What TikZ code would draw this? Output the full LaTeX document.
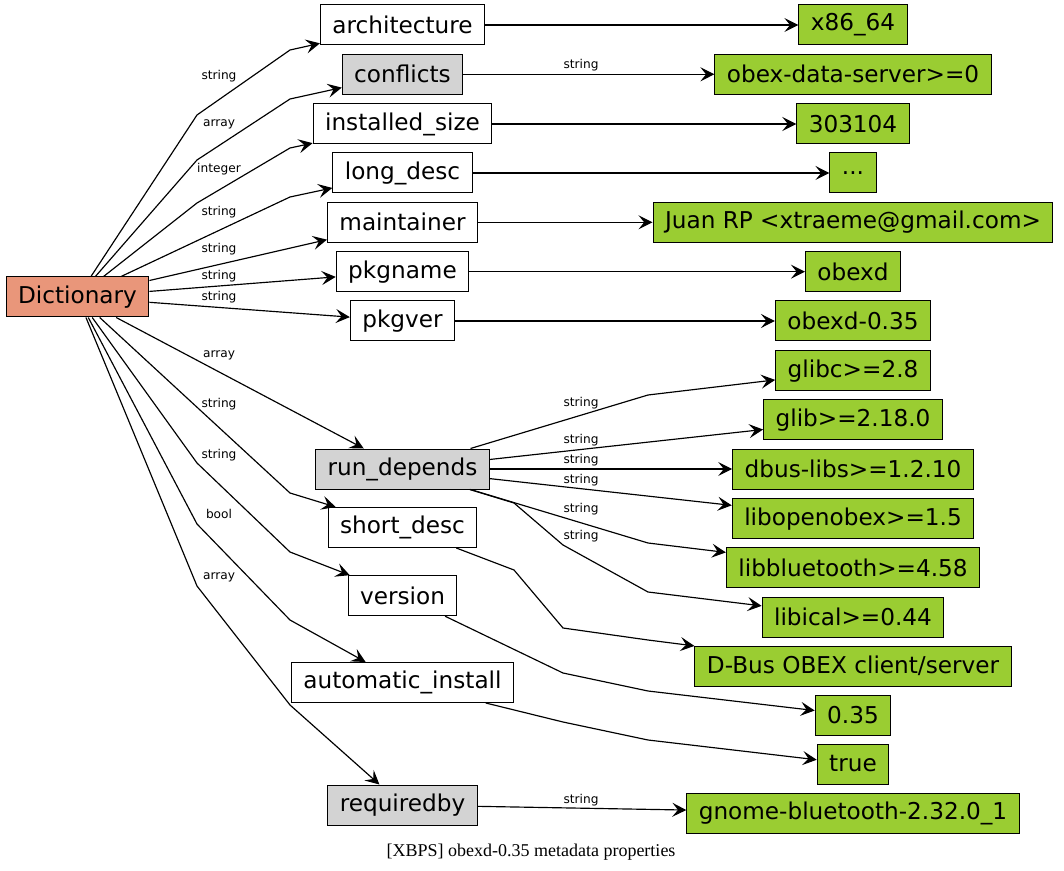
\documentclass[tikz,border=0pt]{standalone}
\usepackage{fontspec}
\setmainfont{DejaVu Sans}
\newfontfamily\captionfont{Liberation Serif}
\usetikzlibrary{arrows.meta,positioning}
\definecolor{dictsalmon}{HTML}{E9967A}
\definecolor{propgray}{HTML}{D3D3D3}
\definecolor{valgreen}{HTML}{9ACD32}

\begin{document}
\begin{tikzpicture}[x=0.6pt, y=-0.6pt, thick]

	\tikzstyle{dict}=[rectangle, line width=0.6pt, fill=dictsalmon, text=black, draw, minimum height=24pt, inner xsep=7.2pt, inner ysep=0pt, font=\fontsize{13.9}{16}\selectfont]
	\tikzstyle{prop}=[dict, fill=white]
	\tikzstyle{propc}=[dict, fill=propgray]
	\tikzstyle{val}=[dict, fill=valgreen]
	\tikzstyle{kind}=[inner sep=0pt, text=black, font=\fontsize{7.3}{8}\selectfont]
	\tikzstyle{link}=[-{Stealth[length=8.4pt, width=8.4pt, inset=3.4pt]}, line width=0.7pt, black]

	\useasboundingbox (0,0) rectangle (1064,871);

	\node[dict] (dict) at (77.5,297) {Dictionary};

	\node[prop]  (arch)  at (402.5,25)    {architecture};
	\node[propc] (confl) at (402.5,74.3)  {conflicts};
	\node[prop]  (isize) at (402.5,124)   {installed\_size};
	\node[prop]  (ldesc) at (402.5,173)   {long\_desc};
	\node[prop]  (maint) at (402.5,222.3) {maintainer};
	\node[prop]  (pname) at (402.5,271.7) {pkgname};
	\node[prop]  (pver)  at (402.5,321)   {pkgver};
	\node[propc] (rdeps) at (402.5,469)   {run\_depends};
	\node[prop]  (sdesc) at (402.5,527.5) {short\_desc};
	\node[prop]  (vers)  at (402.5,595.7) {version};
	\node[prop]  (auto)  at (402.5,682.5) {automatic\_install};
	\node[propc] (reqby) at (402.5,805)   {requiredby};

	\node[val] (v1)  at (853,25)    {x86\_64};
	\node[val] (v2)  at (853,74.3)  {obex-data-server>=0};
	\node[val] (v3)  at (853,124)   {303104};
	\node[val] (v4)  at (853,173)   {...};
	\node[val] (v5)  at (853,222.3) {Juan RP <xtraeme@gmail.com>};
	\node[val] (v6)  at (853,271.7) {obexd};
	\node[val] (v7)  at (853,321)   {obexd-0.35};
	\node[val] (d1)  at (853,370.7) {glibc>=2.8};
	\node[val] (d2)  at (853,419.7) {glib>=2.18.0};
	\node[val] (d3)  at (853,469)   {dbus-libs>=1.2.10};
	\node[val] (d4)  at (853,518.7) {libopenobex>=1.5};
	\node[val] (d5)  at (853,567.7) {libbluetooth>=4.58};
	\node[val] (d6)  at (853,617)   {libical>=0.44};
	\node[val] (v8)  at (853,666)   {D-Bus OBEX client/server};
	\node[val] (v9)  at (853,715)   {0.35};
	\node[val] (v10) at (853,764)   {true};
	\node[val] (v11) at (853,813)   {gnome-bluetooth-2.32.0\_1};

	% dictionary to properties
	\draw[link] (dict) -- (197,115) -- (290,50) -- (arch);
	\draw[link] (dict) -- (197,160) -- (290,99) -- (confl);
	\draw[link] (dict) -- (197,203) -- (290,148) -- (isize);
	\draw[link] (dict) -- (290,197) -- (ldesc);
	\draw[link] (dict) -- (maint);
	\draw[link] (dict) -- (pname);
	\draw[link] (dict) -- (pver);
	\draw[link] (dict) -- (rdeps);
	\draw[link] (dict) -- (290,493) -- (sdesc);
	\draw[link] (dict) -- (197,463) -- (290,552) -- (vers);
	\draw[link] (dict) -- (197,524) -- (290,620) -- (auto);
	\draw[link] (dict) -- (197,586) -- (290,705) -- (reqby);

	\node[kind] (k1)  at (219,76)  {string};
	\node[kind] (k2)  at (219,124) {array};
	\node[kind] (k3)  at (219,169) {integer};
	\node[kind] (k4)  at (219,212) {string};
	\node[kind] (k5)  at (219,249) {string};
	\node[kind] (k6)  at (219,276) {string};
	\node[kind] (k7)  at (219,297) {string};
	\node[kind] (k8)  at (219,355) {array};
	\node[kind] (k9)  at (219,404) {string};
	\node[kind] (k10) at (219,455) {string};
	\node[kind] (k11) at (219,514) {bool};
	\node[kind] (k12) at (219,577) {array};

	% properties to values
	\draw[link] (arch) -- (v1);
	\draw[link] (confl) -- (v2);
	\draw[link] (isize) -- (v3);
	\draw[link] (ldesc) -- (v4);
	\draw[link] (maint) -- (v5);
	\draw[link] (pname) -- (v6);
	\draw[link] (pver) -- (v7);
	\draw[link] (rdeps) -- (648,395) -- (d1);
	\draw[link] (rdeps) -- (d2);
	\draw[link] (rdeps) -- (d3);
	\draw[link] (rdeps) -- (d4);
	\draw[link] (rdeps) -- (648,543) -- (d5);
	\draw[link] (rdeps) -- (514,503) -- (563,545) -- (648,592) -- (d6);
	\draw[link] (sdesc) -- (514,570) -- (563,628) -- (648,640) -- (v8);
	\draw[link] (vers) -- (563,673) -- (648,691) -- (v9);
	\draw[link] (auto) -- (563,722) -- (648,740) -- (v10);
	\draw[link] (reqby) -- (v11);

	\node[kind] (k13) at (581,65)  {string};
	\node[kind] (k14) at (581,403) {string};
	\node[kind] (k15) at (581,440) {string};
	\node[kind] (k16) at (581,460) {string};
	\node[kind] (k17) at (581,480) {string};
	\node[kind] (k18) at (581,509) {string};
	\node[kind] (k19) at (581,536) {string};
	\node[kind] (k20) at (581,800) {string};

	\node[anchor=base, font=\captionfont\fontsize{10.8}{12}\selectfont] (caption) at (531,856.7) {[XBPS] obexd-0.35 metadata properties};

\end{tikzpicture}
\end{document}
